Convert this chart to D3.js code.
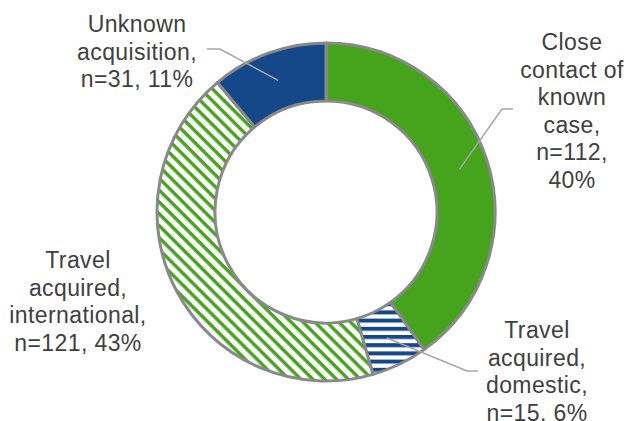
<!DOCTYPE html>
<html>
<head>
<meta charset="utf-8">
<script src="https://cdn.jsdelivr.net/npm/d3@7"></script>
<style>
  html, body { margin: 0; padding: 0; background: #ffffff; }
  svg { display: block; }
</style>
</head>
<body>
<svg id="chart" width="627" height="421"></svg>
<script>
// ---- data ----
const categories = [
  "Close contact of known case",
  "Travel acquired, domestic",
  "Travel acquired, international",
  "Unknown acquisition"
];
const values = [112, 15, 121, 31];
const percents = [40, 6, 43, 11];
const labelLines = [
  ["Close", "contact of", "known", "case,", "n=112,", "40%"],
  ["Travel", "acquired,", "domestic,", "n=15. 6%"],
  ["Travel", "acquired,", "international,", "n=121, 43%"],
  ["Unknown", "acquisition,", "n=31, 11%"]
];

// ---- layout ----
const cx = 326, cy = 212, rOuter = 169, rInner = 111;
const green = "#45a41b", navy = "#144889", edge = "#898989";
const fills = ["solid-green", "hstripe-navy", "dstripe-green", "solid-navy"];
const labelPos = [
  { x: 572, y: 50 },
  { x: 537, y: 338 },
  { x: 78, y: 268 },
  { x: 137, y: 32 }
];
// leader elbows: [elbow point, text-side end]
const leaders = [
  [[502, 109], [513, 109]],
  [[467, 371], [478, 371]],
  null,
  [[220, 49], [207, 49]]
];
const lineH = 27.6;

const svg = d3.select("#chart");
const defs = svg.append("defs");

// horizontal navy stripes
const ph = defs.append("pattern").attr("id", "hstripe")
  .attr("patternUnits", "userSpaceOnUse").attr("width", 8).attr("height", 8.2);
ph.append("rect").attr("width", 8).attr("height", 8.2).attr("fill", "#fff");
ph.append("rect").attr("y", 0).attr("width", 8).attr("height", 4).attr("fill", navy);

// diagonal green stripes (\ direction)
const pd = defs.append("pattern").attr("id", "dstripe")
  .attr("patternUnits", "userSpaceOnUse").attr("width", 10).attr("height", 8.4)
  .attr("patternTransform", "rotate(45)");
pd.append("rect").attr("width", 10).attr("height", 8.4).attr("fill", "#fff");
pd.append("rect").attr("y", 0).attr("width", 10).attr("height", 3.4).attr("fill", green);

const fillFor = k => ({
  "solid-green": green,
  "solid-navy": navy,
  "hstripe-navy": "url(#hstripe)",
  "dstripe-green": "url(#dstripe)"
})[k];

const pie = d3.pie().sort(null).value(d => d);
const arcs = pie(values);
const arc = d3.arc().innerRadius(rInner).outerRadius(rOuter);

const g = svg.append("g").attr("transform", `translate(${cx},${cy})`);
g.selectAll("path.slice").data(arcs).enter().append("path")
  .attr("class", "slice")
  .attr("d", arc)
  .attr("fill", (d, i) => fillFor(fills[i]))
  .attr("stroke", edge)
  .attr("stroke-width", 3)
  .attr("stroke-linejoin", "round");

// leader lines
arcs.forEach((d, i) => {
  if (!leaders[i]) return;
  const c = arc.centroid(d);
  const pts = [[c[0] + cx, c[1] + cy], leaders[i][0], leaders[i][1]];
  svg.append("path")
    .attr("d", d3.line()(pts))
    .attr("fill", "none")
    .attr("stroke", "#a6a6a6")
    .attr("stroke-width", 1.5);
});

// labels
labelLines.forEach((lines, i) => {
  const t = svg.append("text")
    .attr("x", labelPos[i].x).attr("y", labelPos[i].y)
    .attr("text-anchor", "middle")
    .attr("font-family", "'Liberation Sans', Arial, sans-serif")
    .attr("font-size", 23)
    .attr("letter-spacing", 0.4)
    .attr("fill", "#404040");
  lines.forEach((ln, j) => {
    t.append("tspan").attr("x", labelPos[i].x).attr("y", labelPos[i].y + j * lineH).text(ln);
  });
});
</script>
</body>
</html>
